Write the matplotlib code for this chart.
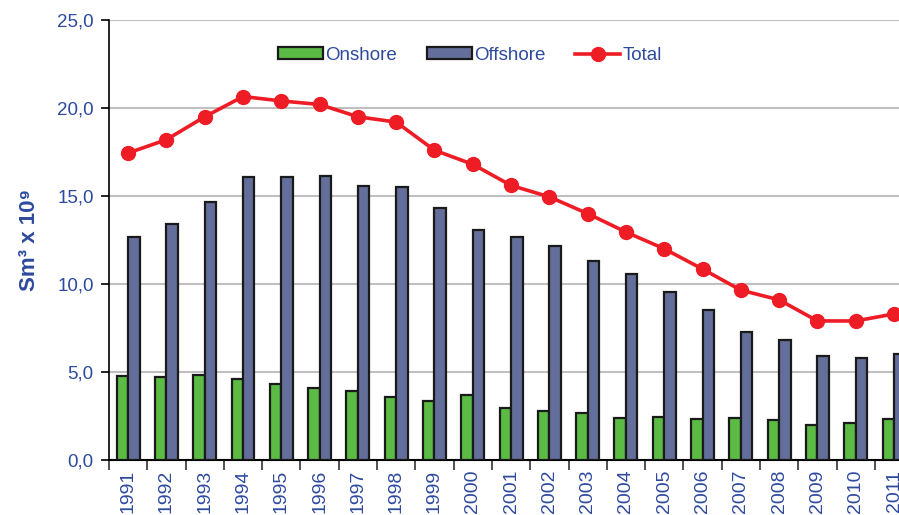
import matplotlib.pyplot as plt
import numpy as np

years = [str(y) for y in range(1991, 2012)]
onshore = [4.77, 4.7, 4.83, 4.6, 4.3, 4.1, 3.9, 3.6, 3.35, 3.7, 2.95, 2.8, 2.67,
           2.4, 2.45, 2.33, 2.4, 2.27, 2.0, 2.1, 2.33]
offshore = [12.67, 13.4, 14.66, 16.08, 16.1, 16.14, 15.57, 15.5, 14.3, 13.07, 12.67,
            12.16, 11.3, 10.57, 9.55, 8.5, 7.3, 6.8, 5.9, 5.8, 6.0]
total = [17.44, 18.2, 19.5, 20.65, 20.4, 20.2, 19.5, 19.2, 17.6, 16.8, 15.6, 14.95,
         14.0, 12.95, 12.0, 10.85, 9.65, 9.1, 7.9, 7.9, 8.3]

plt.rcParams['font.family'] = ['Liberation Sans', 'DejaVu Sans']
blue = '#2E4A9E'

fig = plt.figure(figsize=(8.99, 5.15), dpi=100)
ax = fig.add_axes([0.1212, 0.1068, 0.8788, 0.8544])

x = np.arange(len(years))
w = 0.3
b1 = ax.bar(x - w / 2, onshore, w, color='#5BBB45', edgecolor='#1a1a1a', linewidth=1.6,
            label='Onshore', zorder=3)
b2 = ax.bar(x + w / 2, offshore, w, color='#646E9A', edgecolor='#1a1a1a', linewidth=1.6,
            label='Offshore', zorder=3)
l1, = ax.plot(x, total, color='#EE1C25', lw=2.6, marker='o', ms=10, label='Total', zorder=4)

ax.set_yticks(np.arange(0, 26, 5))
ax.set_yticklabels([f'{v:.1f}'.replace('.', ',') for v in np.arange(0, 26, 5)])
ax.set_xticks(x)
ax.set_xticklabels(years, rotation=90)
ax.set_xticks(np.arange(-0.5, 21, 1), minor=True)
# limits after ticks, otherwise set_xticks widens the view
ax.set_xlim(-0.5, 20.13)
ax.set_ylim(0, 25)
ax.tick_params(axis='x', which='major', length=0, pad=7, labelsize=14, labelcolor=blue)
ax.tick_params(axis='x', which='minor', length=7, width=1.2, color='#333333')
ax.tick_params(axis='y', length=6, width=1.2, labelsize=13.5, labelcolor=blue, pad=5)

ax.yaxis.grid(True, color='#BFBFBF', lw=1.5, zorder=0)
for s in ['top', 'right']:
    ax.spines[s].set_visible(False)
ax.spines['left'].set_linewidth(1.2)
ax.spines['bottom'].set_linewidth(1.5)

ax.set_ylabel('Sm³ x 10⁹', color=blue, fontsize=16, fontweight='bold', labelpad=12)

ax.legend([b1, b2, l1], ['Onshore', 'Offshore', 'Total'], loc='center',
          bbox_to_anchor=(0.457, 0.92), ncol=3, frameon=False,
          fontsize=13.5, labelcolor=blue, handlelength=2.4, handleheight=0.55,
          handletextpad=0.1, columnspacing=1.6)

fig.savefig('out.png', dpi=100)
